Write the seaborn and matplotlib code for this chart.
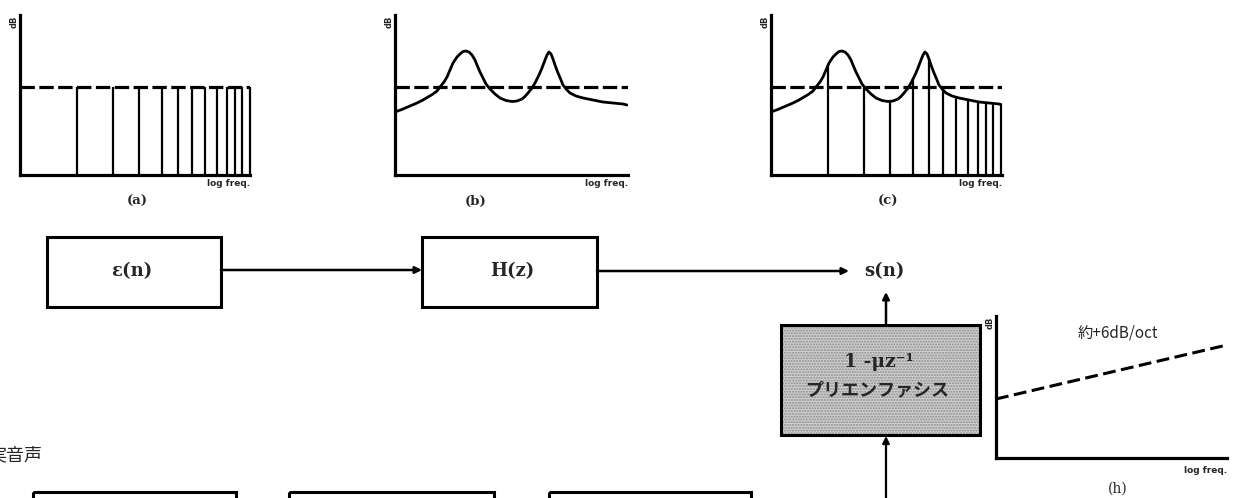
import numpy as np
import pandas as pd
import matplotlib
matplotlib.use("Agg")
import matplotlib.pyplot as plt
from matplotlib.patches import Rectangle
import seaborn as sns

sns.set_theme(style="white")
plt.rcParams["font.family"] = ["Noto Sans CJK JP", "DejaVu Sans"]

# Harmonic positions on the log-frequency axis (axis runs 0..231)
harmonic_freq = [57, 93, 119, 142, 158, 172, 185, 197, 207, 215, 222, 230]
# Flat source spectrum level (dB units, axis runs 0..160)
flat_level = 88
# Vocal-tract spectral envelope
env_freq = [0, 8, 15, 22, 28, 33, 38, 42, 45, 49, 52, 55, 58, 62, 65, 68, 71, 74, 77,
            80, 82, 85, 88, 91, 95, 100, 105, 111, 117, 122, 127, 130, 133, 137, 140,
            144, 147, 150, 152, 154, 156, 158, 160, 163, 166, 168, 172, 175, 181, 188,
            198, 208, 218, 228, 232]
env_db = [63, 66, 69, 72, 75, 78, 81, 84, 88, 93, 98, 105, 112, 118, 121, 123.5, 124, 123,
          120, 115, 110, 103, 97, 91, 86, 81, 77, 74.5, 73.5, 74, 76, 78.5, 82, 87, 92,
          100, 107, 115, 120, 123, 121, 116, 110, 102, 95, 90, 85, 82, 79, 77,
          75, 73, 72, 71, 70]
# Pre-emphasis characteristic (about +6 dB/oct)
preemph_freq = [0, 231]
preemph_db = [59, 113]

W, H = 1240, 498
fig = plt.figure(figsize=(12.4, 4.98), dpi=100)
fig.patch.set_facecolor("white")

ov = fig.add_axes([0, 0, 1, 1], zorder=0)
ov.set_xlim(0, W)
ov.set_ylim(H, 0)
ov.axis("off")

AXIS_LW = 2.3
DASH = (0, (4.5, 1.4))


def panel(x0, x1, ytop, ybot, xmax):
    ax = fig.add_axes([x0 / W, 1 - ybot / H, (x1 - x0) / W, (ybot - ytop) / H], zorder=2)
    ax.set_xlim(0, xmax)
    ax.set_ylim(0, ybot - ytop)
    ax.patch.set_alpha(0)
    for side in ("top", "right"):
        ax.spines[side].set_visible(False)
    for side in ("left", "bottom"):
        ax.spines[side].set_linewidth(AXIS_LW)
        ax.spines[side].set_color("black")
    ax.set_xticks([])
    ax.set_yticks([])
    ax.set_xlabel("")
    ax.set_ylabel("")
    return ax


def small_labels(xaxis, xend, ytop, ylog):
    ov.text(xaxis - 6, ytop + 7, "dB", rotation=90, ha="center", va="center",
            fontsize=6, fontweight="bold", family=["DejaVu Sans"])
    ov.text(xend, ylog, "log freq.", ha="right", va="center",
            fontsize=6.5, fontweight="bold", family=["DejaVu Sans"])


env = pd.DataFrame({"freq": env_freq, "db": env_db})
harm_top = np.interp(harmonic_freq, env_freq, env_db)

# (a) flat line spectrum of the excitation
ax_a = panel(20, 250, 15, 175, 230)
ax_a.axhline(flat_level, color="black", lw=AXIS_LW, ls=DASH)
ax_a.vlines(harmonic_freq, 0, flat_level, color="black", lw=1.6, clip_on=False)
small_labels(20, 250, 15, 183)

# (b) spectral envelope of the filter
ax_b = panel(395, 628, 15, 175, 233)
ax_b.axhline(flat_level, color="black", lw=AXIS_LW, ls=DASH)
sns.lineplot(data=env, x="freq", y="db", ax=ax_b, color="black", lw=2.0, sort=False)
ax_b.set_xlabel("")
ax_b.set_ylabel("")
small_labels(395, 628, 15, 183)

# (c) harmonics shaped by the envelope
ax_c = panel(771, 1002, 15, 175, 231)
ax_c.axhline(flat_level, color="black", lw=AXIS_LW, ls=DASH)
sns.lineplot(data=env, x="freq", y="db", ax=ax_c, color="black", lw=2.0, sort=False)
ax_c.vlines(harmonic_freq, 0, harm_top, color="black", lw=1.6, clip_on=False)
ax_c.set_xlabel("")
ax_c.set_ylabel("")
small_labels(771, 1002, 15, 183)

for lbl, xc in (("(a)", 137), ("(b)", 476), ("(c)", 888)):
    ov.text(xc, 201, lbl, ha="center", va="center", fontsize=9.5, fontweight="bold",
            family=["DejaVu Serif"])

# (h) pre-emphasis characteristic
ax_h = panel(996, 1227, 316, 458, 231)
pre = pd.DataFrame({"freq": preemph_freq, "db": preemph_db})
sns.lineplot(data=pre, x="freq", y="db", ax=ax_h, color="black", lw=2.2,
             linestyle=(0, (4.2, 1.8)))
ax_h.set_xlabel("")
ax_h.set_ylabel("")
small_labels(996, 1227, 316, 470)
ov.text(1118, 333, "約+6dB/oct", ha="center", va="center", fontsize=11,
        family=["Noto Sans CJK JP", "DejaVu Sans"])
ov.text(1118, 489, "(h)", ha="center", va="center", fontsize=10,
        family=["DejaVu Serif"])

# Block diagram
BOX_LW = 2.2


def box(x0, y0, x1, y1, **kw):
    ov.add_patch(Rectangle((x0, y0), x1 - x0, y1 - y0, fill=False, lw=BOX_LW,
                           edgecolor="black", clip_on=True, **kw))


def arrow(p0, p1, lw=1.8):
    ov.annotate("", xy=p1, xytext=p0,
                arrowprops=dict(arrowstyle="-|>", lw=lw, color="black",
                                mutation_scale=10, shrinkA=0, shrinkB=0))


box(47, 237, 221, 307)
box(422, 237, 597, 307)
ov.text(132, 271, "ε(n)", ha="center", va="center", fontsize=13, fontweight="bold",
        family=["DejaVu Serif"])
ov.text(512, 271, "H(z)", ha="center", va="center", fontsize=13, fontweight="bold",
        family=["DejaVu Serif"])
arrow((221, 270), (422, 270))
arrow((597, 271), (849, 271))
ov.text(884, 271, "s(n)", ha="center", va="center", fontsize=13, fontweight="bold",
        family=["DejaVu Serif"])

# pre-emphasis block with stippled fill
ov.add_patch(Rectangle((781, 325), 199, 110, facecolor="#cfcfcf", edgecolor="#8c8c8c",
                       hatch="......", lw=0))
box(781, 325, 980, 435)
ov.text(879, 362, "1 -μz⁻¹", ha="center", va="center", fontsize=13.5, fontweight="bold",
        family=["DejaVu Serif"])
ov.text(877, 390, "プリエンファシス", ha="center", va="center", fontsize=13,
        fontweight="bold", family=["Noto Sans CJK JP", "DejaVu Sans"])
arrow((886, 325), (886, 292))
arrow((886, 505), (886, 436), lw=1.6)

# speech input row
ov.text(-12, 455, "実音声", ha="left", va="center", fontsize=13,
        family=["Noto Sans CJK JP", "DejaVu Sans"])
box(33, 492, 236, 520)
box(289, 492, 494, 520)
box(549, 492, 751, 520)

fig.savefig("out.png", dpi=100, facecolor="white")
